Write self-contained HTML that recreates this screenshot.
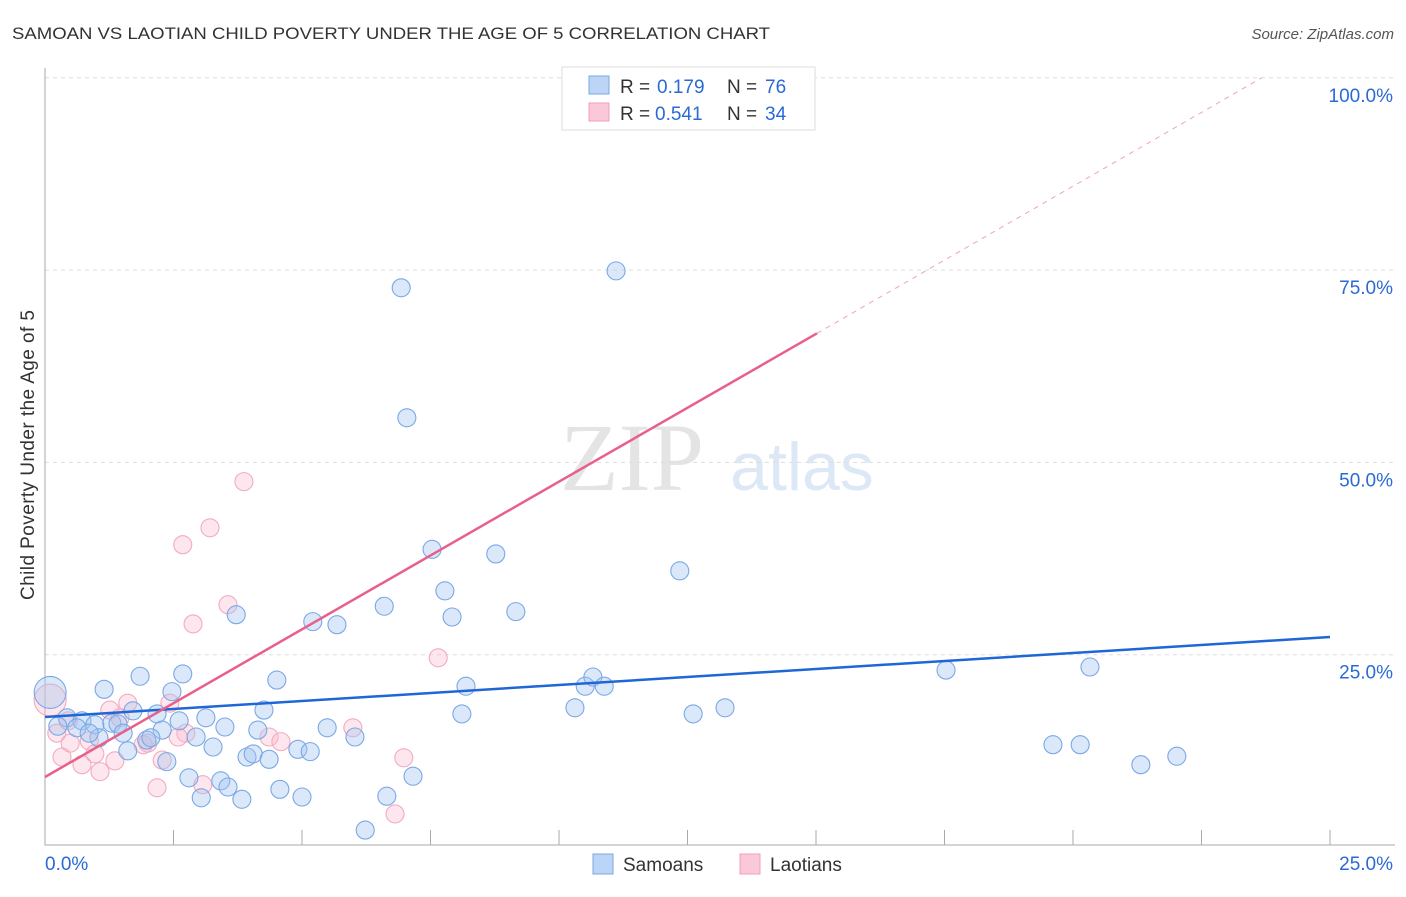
<!DOCTYPE html>
<html><head><meta charset="utf-8"><style>
body{margin:0;background:#fff;font-family:"Liberation Sans",sans-serif;}
</style></head><body>
<svg id="c" width="1406" height="892" xmlns="http://www.w3.org/2000/svg">
<text x="12" y="39" font-size="17" fill="#333" textLength="758" lengthAdjust="spacingAndGlyphs">SAMOAN VS LAOTIAN CHILD POVERTY UNDER THE AGE OF 5 CORRELATION CHART</text>
<text x="1394" y="39" font-size="15" fill="#555" font-style="italic" text-anchor="end">Source: ZipAtlas.com</text>
<text x="632" y="490" font-size="96" fill="#e4e4e4" font-family="Liberation Serif,serif" text-anchor="middle">ZIP</text>
<text x="802" y="490" font-size="68" fill="#dde8f6" text-anchor="middle">atlas</text>
<text transform="translate(34,455) rotate(-90)" font-size="19" fill="#333" text-anchor="middle" textLength="290">Child Poverty Under the Age of 5</text>
<g id="grid"></g><g id="pts"></g><g id="lines"></g>
<g>
<rect x="562" y="67" width="253" height="63" fill="#fff" stroke="#ddd"/>
<rect x="589" y="76" width="20" height="18" fill="#bcd4f5" stroke="#7aa7e5"/>
<text x="620" y="93" font-size="19" fill="#333">R =</text>
<text x="657" y="93" font-size="19" fill="#2a6ad4">0.179</text>
<text x="727" y="93" font-size="19" fill="#333">N =</text>
<text x="765" y="93" font-size="19" fill="#2a6ad4">76</text>
<rect x="589" y="103" width="20" height="18" fill="#fac8d8" stroke="#f0a0b8"/>
<text x="620" y="120" font-size="19" fill="#333">R =</text>
<text x="655" y="120" font-size="19" fill="#2a6ad4">0.541</text>
<text x="727" y="120" font-size="19" fill="#333">N =</text>
<text x="765" y="120" font-size="19" fill="#2a6ad4">34</text>
</g>
<g>
<rect x="593" y="854" width="20" height="20" fill="#bcd4f5" stroke="#7aa7e5"/>
<text x="623" y="871" font-size="19" fill="#333">Samoans</text>
<rect x="740" y="854" width="20" height="20" fill="#fac8d8" stroke="#f0a0b8"/>
<text x="770" y="871" font-size="19" fill="#333">Laotians</text>
</g>
</svg>
<script>
const xTicks=[0,2.5,5,7.5,10,12.5,15,17.5,20,22.5,25];
const yTicks=[25,50,75,100];
const yTickLabels=["25.0%","50.0%","75.0%","100.0%"];
const samoanX=[6.93,11.11,7.04,7.53,8.77,12.35,7.78,6.60,7.92,9.16,3.72,5.21,5.68,1.85,2.68,1.15,2.47,4.51,8.19,10.51,10.66,10.88,17.53,20.33,4.26,8.11,10.31,12.61,13.23,1.71,2.18,3.13,2.61,0.43,0.72,0.25,0.62,0.97,1.30,1.42,1.52,1.05,0.86,2.28,3.50,4.14,5.49,1.98,2.06,2.94,6.03,1.61,3.27,2.37,3.93,4.05,4.36,4.92,5.16,7.16,2.80,3.42,3.56,4.57,3.04,3.83,5.00,6.65,6.23,19.61,20.14,21.32,22.02];
const samoanY=[72.7,74.9,55.8,38.7,38.1,35.9,33.3,31.3,29.9,30.6,30.2,29.3,28.9,22.2,22.5,20.5,20.2,21.7,20.9,20.9,22.1,20.9,23.0,23.4,17.8,17.3,18.1,17.3,18.1,17.7,17.3,16.8,16.4,16.8,16.4,15.7,15.5,15.9,16.1,16.0,14.8,14.2,14.8,15.2,15.6,15.2,15.5,13.9,14.2,14.3,14.3,12.5,13.0,11.1,11.7,12.1,11.4,12.7,12.4,9.2,9.0,8.6,7.8,7.5,6.4,6.2,6.5,6.6,2.2,13.3,13.3,10.7,11.8];
const laotianX=[10.58,3.87,3.21,2.68,3.56,2.88,7.65,2.43,1.61,1.26,1.46,0.23,0.49,0.86,2.00,2.74,2.59,1.91,5.99,4.36,4.59,2.28,0.97,0.33,0.72,1.36,6.98,1.07,3.07,2.18,6.81,0.45];
const laotianY=[99.7,47.5,41.5,39.3,31.5,29.0,24.6,18.7,18.7,17.8,16.8,14.8,13.5,13.8,13.5,14.8,14.3,13.3,15.5,14.3,13.7,11.3,12.1,11.7,10.7,11.2,11.6,9.8,8.1,7.7,4.3,16.4];
const bigSamoan=[0.1,20.1]; const bigLaotian=[0.1,19.1];
const samoanTrend=[16.9,27.3];
const laotianTrend=[9.1,3.84]; const laotianSolidEnd=15.02;
const X=v=>45+v/25*1285, Y=v=>847-v/25*192.3;
const NS="http://www.w3.org/2000/svg";
function mk(t,a,p){const e=document.createElementNS(NS,t);for(const k in a)e.setAttribute(k,a[k]);p.appendChild(e);return e;}
const g=document.getElementById('grid'),pts=document.getElementById('pts'),ln=document.getElementById('lines');
yTicks.forEach((t,i)=>{
 const l=mk('line',{x1:45,x2:1395,y1:Y(t),y2:Y(t),stroke:'#ddd','stroke-dasharray':'4,4'},g);
 
 
 const tx=mk('text',{x:1393,y:Y(t)+24,'font-size':19,fill:'#2a6ad4','text-anchor':'end'},g);
 tx.textContent=yTickLabels[i];
 
 
});
const ax=mk('path',{d:'M45,68V845H1395',stroke:'#aaa',fill:'none'},g);


xTicks.forEach(t=>{if(t===0)return;const l=mk('line',{x1:X(t),x2:X(t),y1:830,y2:845,stroke:'#aaa'},g);
 
 });
const x0=mk('text',{x:45,y:870,'font-size':19,fill:'#2a6ad4'},g);x0.textContent='0.0%';


const x1=mk('text',{x:1393,y:870,'font-size':19,fill:'#2a6ad4','text-anchor':'end'},g);x1.textContent='25.0%';


function dot(x,y,r,f,s,name){const c=mk('circle',{cx:X(x),cy:Y(y),r:r,fill:f,stroke:s,'stroke-width':1.1},pts);
 
 }
const bf='rgba(165,198,240,0.4)',bs='#7aa8e6',pf='rgba(248,182,202,0.35)',ps='#f2abc0';
dot(bigLaotian[0],bigLaotian[1],16,pf,ps,'laotian-point-large');
dot(bigSamoan[0],bigSamoan[1],16,bf,bs,'samoan-point-large');
laotianX.forEach((x,i)=>dot(x,laotianY[i],9,pf,ps,'laotian-point'));
samoanX.forEach((x,i)=>dot(x,samoanY[i],9,bf,bs,'samoan-point'));
const bl=mk('line',{x1:X(0),y1:Y(samoanTrend[0]),x2:X(25),y2:Y(samoanTrend[1]),stroke:'#1f66d6','stroke-width':2.5},ln);


const pl=mk('line',{x1:X(0),y1:Y(laotianTrend[0]),x2:X(laotianSolidEnd),y2:Y(laotianTrend[0]+laotianTrend[1]*laotianSolidEnd),stroke:'#e8608a','stroke-width':2.5},ln);


const xe=(100-laotianTrend[0])/laotianTrend[1];
const pd=mk('line',{x1:X(laotianSolidEnd),y1:Y(laotianTrend[0]+laotianTrend[1]*laotianSolidEnd),x2:X(xe),y2:Y(100),stroke:'#f0a3ba','stroke-width':1,'stroke-dasharray':'5,5'},ln);


</script>
</body></html>
